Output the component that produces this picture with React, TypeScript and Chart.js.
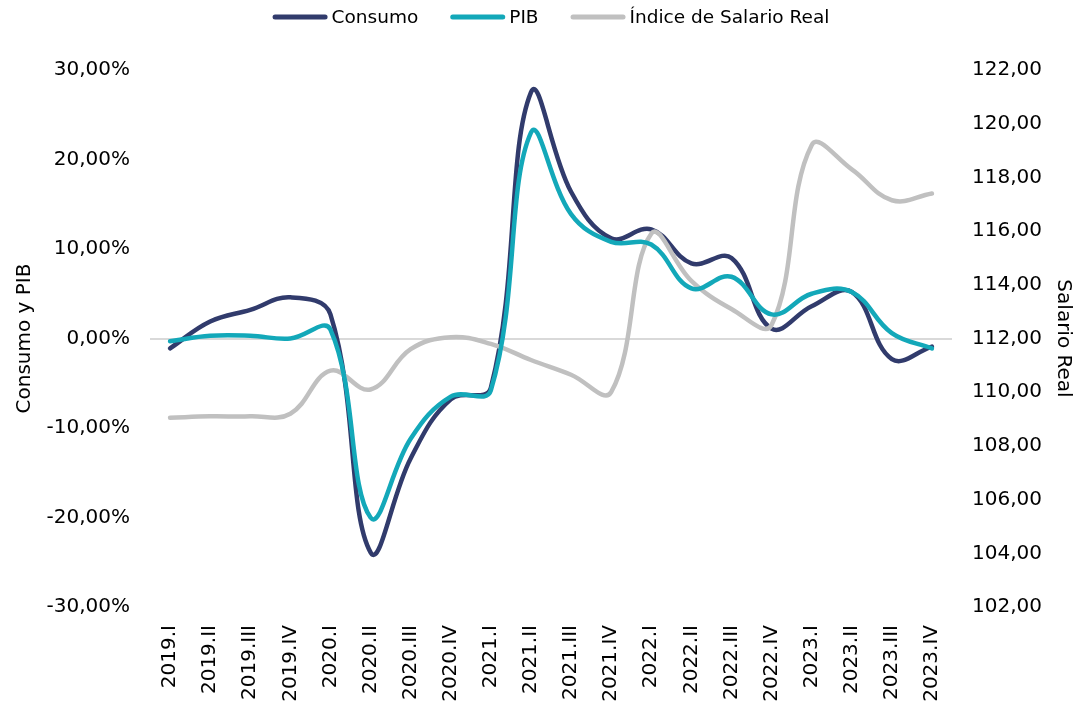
import React, { useEffect, useRef } from 'react';
import { Chart, registerables } from 'chart.js';

Chart.register(...registerables);

const categories = [
  '2019.I', '2019.II', '2019.III', '2019.IV',
  '2020.I', '2020.II', '2020.III', '2020.IV',
  '2021.I', '2021.II', '2021.III', '2021.IV',
  '2022.I', '2022.II', '2022.III', '2022.IV',
  '2023.I', '2023.II', '2023.III', '2023.IV',
];

const consumo = [-1.1, 1.9, 3.2, 4.6, 2.7, -23.9, -13.4, -6.8, -5.5, 27.5, 16.4, 11.2, 12.2, 8.4, 9.0, 1.1, 3.6, 5.2, -2.3, -0.9];
const pib = [-0.3, 0.3, 0.3, 0.0, 1.0, -20.0, -11.2, -6.5, -5.8, 23.0, 13.9, 10.8, 10.5, 5.6, 6.9, 2.7, 5.0, 5.2, 0.6, -1.1];
const salario = [109.05, 109.1, 109.1, 109.2, 110.8, 110.1, 111.6, 112.05, 111.8, 111.2, 110.65, 110.0, 115.9, 114.15, 113.1, 112.5, 119.2, 118.3, 117.15, 117.4];

const leftMin = -30;
const leftMax = 30;
const leftStep = 10;
const rightMin = 102;
const rightMax = 122;
const rightStep = 2;

const FONT = '"DejaVu Sans", sans-serif';
const NAVY = '#313B6C';
const TEAL = '#13A8B9';
const GRAY = '#C0C0C0';

const fmt = (v: number) => v.toFixed(2).replace('.', ',');

export default function App() {
  const canvasRef = useRef<HTMLCanvasElement | null>(null);

  useEffect(() => {
    document.body.style.margin = '0';
    const canvas = canvasRef.current;
    if (!canvas) return;

    // Legend drawn in Excel style: long rounded line sample, small gap, label.
    const excelLegend = {
      id: 'excelLegend',
      afterDraw(chart: any) {
        const ctx = chart.ctx;
        const lineW = 55;
        const gapText = 4;
        const gapItem = 32;
        const yMid = 17;
        ctx.save();
        ctx.font = `18.5px ${FONT}`;
        const items = chart.data.datasets.map((ds: any) => ({
          text: ds.label,
          color: ds.borderColor,
          w: ctx.measureText(ds.label).width,
        }));
        const total =
          items.reduce((s: number, it: any) => s + lineW + gapText + it.w, 0) +
          gapItem * (items.length - 1);
        const center = (chart.chartArea.left + chart.chartArea.right) / 2;
        let x = center - total / 2;
        ctx.textBaseline = 'middle';
        ctx.textAlign = 'left';
        items.forEach((it: any) => {
          ctx.strokeStyle = it.color;
          ctx.lineWidth = 5;
          ctx.lineCap = 'round';
          ctx.beginPath();
          ctx.moveTo(x + 2.5, yMid);
          ctx.lineTo(x + lineW - 2.5, yMid);
          ctx.stroke();
          x += lineW + gapText;
          ctx.fillStyle = '#000';
          ctx.fillText(it.text, x, yMid + 1);
          x += it.w + gapItem;
        });
        ctx.restore();
      },
    };

    const chart = new Chart(canvas, {
      type: 'line',
      data: {
        labels: categories,
        datasets: [
          {
            label: 'Consumo',
            data: consumo,
            borderColor: NAVY,
            backgroundColor: NAVY,
            borderWidth: 4.5,
            borderCapStyle: 'round',
            pointRadius: 0,
            tension: 0.4,
            yAxisID: 'y',
            order: 3,
          },
          {
            label: 'PIB',
            data: pib,
            borderColor: TEAL,
            backgroundColor: TEAL,
            borderWidth: 4.5,
            borderCapStyle: 'round',
            pointRadius: 0,
            tension: 0.4,
            yAxisID: 'y',
            order: 1,
          },
          {
            label: 'Índice de Salario Real',
            data: salario,
            borderColor: GRAY,
            backgroundColor: GRAY,
            borderWidth: 4.5,
            borderCapStyle: 'round',
            pointRadius: 0,
            tension: 0.4,
            yAxisID: 'y1',
            order: 2,
          },
        ],
      },
      options: {
        animation: false,
        responsive: false,
        maintainAspectRatio: false,
        layout: { padding: { top: 70, left: 0, right: 0, bottom: 0 } },
        plugins: {
          tooltip: { enabled: false },
          legend: { display: false },
        },
        scales: {
          x: {
            offset: true,
            grid: { display: false, drawTicks: false },
            border: { display: false },
            ticks: {
              autoSkip: false,
              maxRotation: 90,
              minRotation: 90,
              padding: 18,
              color: '#000',
              font: { family: FONT, size: 20 },
            },
            afterFit: (scale: any) => {
              scale.height = 106;
            },
          },
          y: {
            position: 'left',
            min: leftMin,
            max: leftMax,
            ticks: {
              stepSize: leftStep,
              padding: 20,
              color: '#000',
              font: { family: FONT, size: 20 },
              callback: (v: any) => fmt(Number(v)) + '%',
            },
            grid: {
              drawTicks: false,
              color: (ctx: any) => (ctx.tick && ctx.tick.value === 0 ? '#D9D9D9' : 'rgba(0,0,0,0)'),
              lineWidth: 2,
            },
            border: { display: false },
            title: {
              display: true,
              text: 'Consumo y PIB',
              color: '#000',
              font: { family: FONT, size: 20 },
              padding: { top: 13, bottom: 0 },
            },
            afterFit: (scale: any) => {
              scale.width = 150;
            },
          },
          y1: {
            position: 'right',
            min: rightMin,
            max: rightMax,
            ticks: {
              stepSize: rightStep,
              padding: 20,
              color: '#000',
              font: { family: FONT, size: 20 },
              callback: (v: any) => fmt(Number(v)),
            },
            grid: { display: false, drawTicks: false },
            border: { display: false },
            title: {
              display: true,
              text: 'Salario Real',
              color: '#000',
              font: { family: FONT, size: 20 },
              padding: { top: 4, bottom: 0 },
            },
            afterFit: (scale: any) => {
              scale.width = 127;
            },
          },
        },
      },
      plugins: [excelLegend],
    } as any);

    return () => {
      chart.destroy();
    };
  }, []);

  return (
    <div style={{ width: 1079, height: 713 }}>
      <canvas ref={canvasRef} width={1079} height={713} style={{ display: 'block', width: 1079, height: 713 }} />
    </div>
  );
}
